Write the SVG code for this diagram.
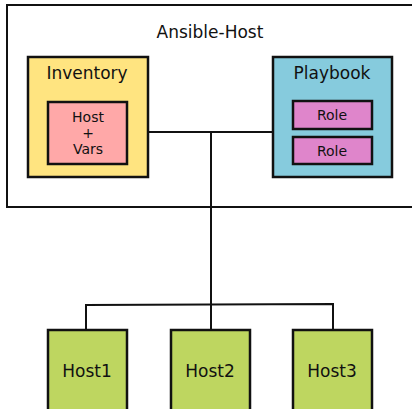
<svg xmlns="http://www.w3.org/2000/svg" width="412" height="409" viewBox="0 0 412 409">
<style>
text{font-family:"DejaVu Sans",sans-serif;fill:#111;text-anchor:middle}
.b{stroke:#111;stroke-width:2.5}
.c{fill:none;stroke:#111;stroke-width:2}
.l{font-size:17px}
.s{font-size:14px}
</style>
<rect width="412" height="409" fill="#fff"/>
<g id="ansible-host">
<rect x="7" y="5" width="410" height="202" fill="#fff" stroke="#111" stroke-width="2"/>
<text class="l" x="210" y="38">Ansible-Host</text>
</g>
<g id="connectors">
<path class="c" d="M148 132H273M211 132V330M86 330V305L333 304V330"/>
</g>
<g id="inventory">
<rect class="b" x="28" y="57" width="120" height="120" fill="#ffe480"/>
<text class="l" x="87" y="79">Inventory</text>
</g>
<g id="hostvars">
<rect class="b" x="48" y="102" width="79" height="62" fill="#ffa8a8"/>
<text class="s" x="88" y="122">Host</text>
<text class="s" x="88" y="138">+</text>
<text class="s" x="88" y="154">Vars</text>
</g>
<g id="playbook">
<rect class="b" x="273" y="57" width="119" height="120" fill="#86cbdd"/>
<text class="l" x="332" y="79">Playbook</text>
</g>
<g id="role1">
<rect class="b" x="293" y="101" width="79" height="28" fill="#df85cb"/>
<text class="s" x="332" y="120">Role</text>
</g>
<g id="role2">
<rect class="b" x="293" y="137" width="79" height="27" fill="#df85cb"/>
<text class="s" x="332" y="156">Role</text>
</g>
<g id="host1">
<rect class="b" x="48" y="330" width="79" height="85" fill="#bed660"/>
<text class="l" x="87" y="377">Host1</text>
</g>
<g id="host2">
<rect class="b" x="171" y="330" width="79" height="85" fill="#bed660"/>
<text class="l" x="210" y="377">Host2</text>
</g>
<g id="host3">
<rect class="b" x="293" y="330" width="79" height="85" fill="#bed660"/>
<text class="l" x="332" y="377">Host3</text>
</g>
</svg>
